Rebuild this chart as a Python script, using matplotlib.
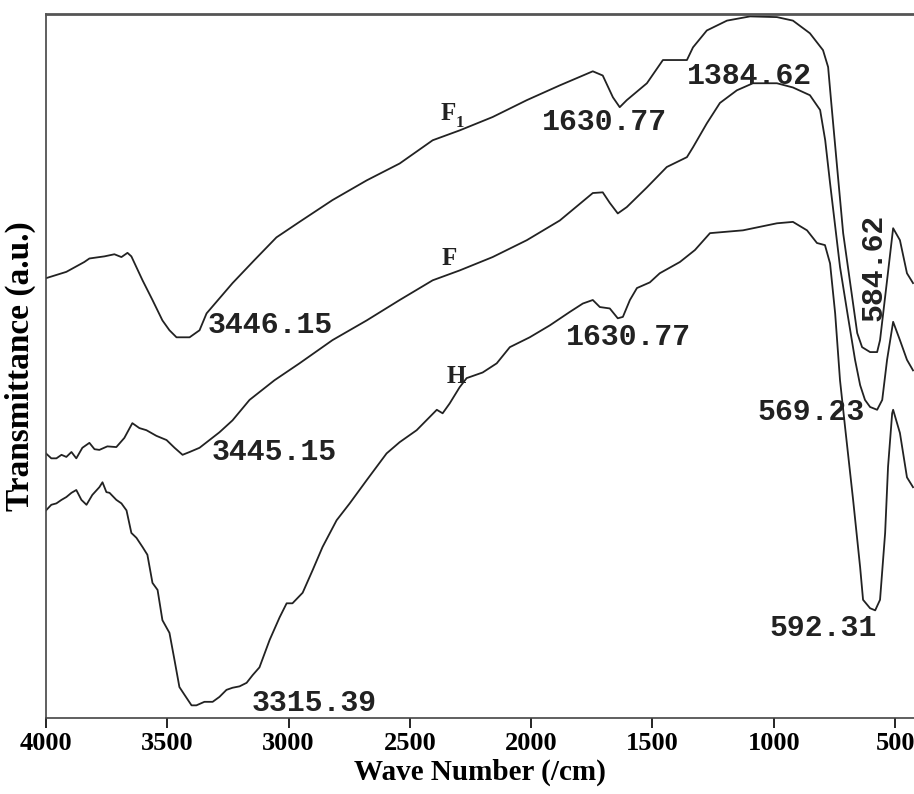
import numpy as np
import matplotlib
matplotlib.use("Agg")
import matplotlib.pyplot as plt

# FTIR spectra, values (transmittance in arbitrary units 0-100)
wn_f1 = [4000, 3916, 3842, 3821, 3780, 3759, 3718, 3689, 3664, 3648, 3602, 3561, 3520, 3491, 3462,
         3408, 3367, 3338, 3231, 3140, 3050, 2955, 2819, 2678, 2542, 2406, 2295, 2159, 2018, 1882,
         1746, 1705, 1663, 1635, 1606, 1523, 1457, 1358, 1333, 1276, 1193, 1098, 987, 921, 851,
         797, 776, 764, 739, 714, 685, 656, 636, 603, 574, 562, 533, 508, 480, 451, 426]
t_f1 = [62.5, 63.4, 64.8, 65.3, 65.5, 65.6, 65.9, 65.5, 66.1, 65.6, 62.2, 59.4, 56.5, 55.1, 54.1,
        54.1, 55.1, 57.5, 61.8, 65.1, 68.3, 70.5, 73.6, 76.4, 78.8, 82.1, 83.5, 85.4, 87.8, 89.9,
        91.9, 91.3, 88.2, 86.8, 87.8, 90.2, 93.5, 93.5, 95.3, 97.7, 99.1, 99.7, 99.6, 99.1, 97.3,
        94.9, 92.5, 87.8, 78.3, 68.9, 61.8, 54.7, 52.7, 52.0, 52.0, 53.7, 62.2, 69.6, 67.9, 63.2, 61.8]

wn_f = [4000, 3978, 3957, 3936, 3916, 3895, 3875, 3850, 3821, 3800, 3780, 3747, 3710, 3677, 3644,
        3615, 3586, 3545, 3503, 3470, 3437, 3408, 3367, 3326, 3285, 3231, 3161, 3058, 2955, 2819,
        2678, 2542, 2406, 2295, 2159, 2018, 1882, 1746, 1705, 1676, 1643, 1606, 1523, 1441, 1358,
        1333, 1276, 1222, 1152, 1086, 987, 921, 851, 809, 788, 768, 727, 694, 665, 644, 624, 603,
        574, 553, 533, 508, 480, 451, 426]
t_f = [37.6, 36.9, 36.9, 37.4, 37.1, 37.8, 36.9, 38.4, 39.1, 38.2, 38.1, 38.6, 38.5, 39.8, 41.9,
       41.2, 40.9, 40.1, 39.5, 38.4, 37.4, 37.8, 38.4, 39.5, 40.6, 42.3, 45.2, 48.0, 50.4, 53.7,
       56.5, 59.4, 62.2, 63.6, 65.5, 67.9, 70.7, 74.6, 74.7, 73.2, 71.7, 72.6, 75.4, 78.3, 79.7,
       81.1, 84.5, 87.4, 89.2, 90.2, 90.2, 89.6, 88.5, 86.4, 82.1, 76.0, 64.1, 57.0, 50.9, 47.3,
       45.2, 44.2, 43.8, 45.2, 50.9, 56.3, 53.7, 50.9, 49.4]

wn_h = [4000, 3978, 3957, 3936, 3916, 3895, 3875, 3854, 3833, 3809, 3780, 3767, 3751, 3738, 3710,
        3689, 3668, 3648, 3627, 3602, 3582, 3561, 3540, 3520, 3491, 3470, 3450, 3429, 3400, 3380,
        3347, 3313, 3285, 3256, 3231, 3202, 3173, 3148, 3120, 3078, 3037, 3008, 2984, 2942, 2901,
        2860, 2802, 2748, 2678, 2596, 2542, 2472, 2389, 2365, 2336, 2295, 2266, 2200, 2142, 2088,
        2006, 1923, 1841, 1787, 1746, 1717, 1676, 1643, 1622, 1593, 1564, 1511, 1470, 1387, 1325,
        1263, 1127, 987, 921, 863, 822, 789, 768, 747, 727, 706, 673, 644, 632, 603, 582, 562, 541,
        529, 512, 508, 480, 451, 426]
t_h = [29.5, 30.3, 30.5, 31.0, 31.4, 32.0, 32.4, 31.0, 30.3, 31.7, 32.8, 33.5, 32.1, 32.0, 31.0,
       30.5, 29.5, 26.3, 25.6, 24.3, 23.2, 19.2, 18.2, 13.9, 12.1, 8.2, 4.4, 3.3, 1.8, 1.8,
       2.3, 2.3, 3.0, 4.0, 4.3, 4.5, 5.0, 6.1, 7.2, 11.1, 14.3, 16.3, 16.3, 17.8, 21.0,
       24.3, 28.1, 30.5, 33.8, 37.6, 39.2, 40.9, 43.8, 43.3, 44.7, 47.0, 48.3, 49.1, 50.4, 52.7,
       54.1, 55.8, 57.7, 58.9, 59.4, 58.4, 58.2, 56.8, 57.0, 59.4, 61.1, 61.9, 63.2, 64.8, 66.5,
       68.9, 69.3, 70.3, 70.5, 69.3, 67.5, 67.2, 64.6, 57.5, 48.0, 41.3, 31.0, 21.4, 16.8, 15.6,
       15.3, 16.8, 26.3, 35.7, 43.3, 43.8, 40.5, 34.2, 32.8]

# peak labels: text, wavenumber, transmittance, rotation, alignment
peak_text = ["3446.15", "1630.77", "1384.62", "584.62", "1630.77", "3445.15", "569.23", "592.31", "3315.39"]
peak_wn = [3334, 1956, 1358, 591, 1856, 3317, 624, 1017, 3153]
peak_t = [55.8, 84.7, 91.3, 64.1, 54.1, 37.8, 43.5, 12.8, 2.1]
peak_rot = [0, 0, 0, 90, 0, 0, 0, 0, 0]
peak_ha = ["left", "left", "left", "center", "left", "left", "right", "left", "left"]

xticks = [4000, 3500, 3000, 2500, 2000, 1500, 1000, 500]

fig = plt.figure(figsize=(9.14, 7.94), dpi=100)
ax = fig.add_axes([0.0503, 0.0957, 0.9497, 0.8863])

for wn, t in [(wn_f1, t_f1), (wn_f, t_f), (wn_h, t_h)]:
    ax.plot(wn, t, color='#222222', lw=1.3)

ax.set_xlim(4000, 422)
ax.set_ylim(0, 100)
ax.set_yticks([])
ax.set_xticks(xticks)
ax.set_xticklabels([str(v) for v in xticks], fontfamily='Liberation Serif',
                   fontweight='bold', fontsize=19)
ax.tick_params(axis='x', direction='out', length=7, width=1.2, pad=3)
ax.spines['right'].set_visible(False)
ax.spines['top'].set_color('#555555')
ax.spines['top'].set_linewidth(2)
ax.spines['left'].set_color('#444444')
ax.spines['bottom'].set_color('#444444')
ax.spines['left'].set_linewidth(1.2)
ax.spines['bottom'].set_linewidth(1.2)

ax.set_xlabel('Wave Number (/cm)', fontfamily='Liberation Serif', fontweight='bold',
              fontsize=21, labelpad=3)
ax.set_ylabel('Transmittance (a.u.)', fontfamily='Liberation Serif', fontweight='bold',
              fontsize=24, labelpad=7)

# curve names
serif = dict(fontfamily='Liberation Serif', fontweight='bold', fontsize=18, color='#222222')
ax.text(2340, 85.9, 'F', ha='center', va='center', **serif)
ax.text(2293, 84.6, '1', ha='center', va='center', fontfamily='Liberation Serif',
        fontweight='bold', fontsize=12, color='#222222')
ax.text(2336, 65.3, 'F', ha='center', va='center', **serif)
ax.text(2307, 48.6, 'H', ha='center', va='center', **serif)

for s, x, y, r, ha in zip(peak_text, peak_wn, peak_t, peak_rot, peak_ha):
    ax.text(x, y, s, rotation=r, ha=ha, va='center', fontfamily='Liberation Mono',
            fontweight='bold', fontsize=21.5, color='#222222')

fig.savefig('out.png', dpi=100)
